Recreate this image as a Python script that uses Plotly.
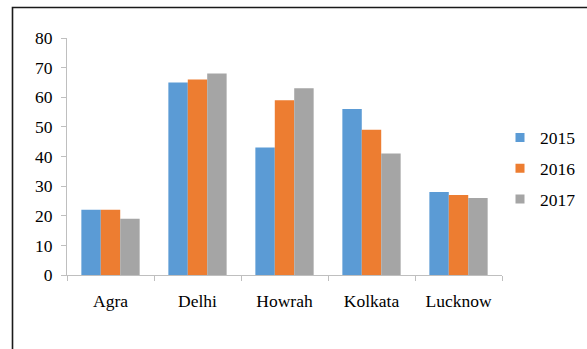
import plotly.graph_objects as go

# City-wise figures for three years
cities = ["Agra", "Delhi", "Howrah", "Kolkata", "Lucknow"]
years = ["2015", "2016", "2017"]
values_2015 = [22, 65, 43, 56, 28]
values_2016 = [22, 66, 59, 49, 27]
values_2017 = [19, 68, 63, 41, 26]
series = [values_2015, values_2016, values_2017]
colors = ["#5B9BD5", "#ED7D31", "#A5A5A5"]

W, H = 587, 349
L, R, T, B = 67, 85, 38, 74
pw, ph = W - L - R, H - T - B

FONT = dict(family="Liberation Serif, Times New Roman, serif", size=17.5, color="#000000")

fig = go.Figure()
for name, vals, col in zip(years, series, colors):
    fig.add_trace(go.Bar(
        x=cities, y=vals, name=name, legendgroup=name, showlegend=False,
        marker=dict(color=col, line=dict(width=0)),
    ))
    # small square legend key for each year
    fig.add_trace(go.Scatter(
        x=[None], y=[None], mode="markers", name=name, legendgroup=name,
        marker=dict(symbol="square", size=9, color=col), hoverinfo="skip",
    ))

# outer frame of the chart area (runs off the right and bottom edges)
def px_x(p):
    return (p - L) / pw

def px_y(p):
    return 1 + (T - p) / ph

fig.add_shape(type="rect", xref="paper", yref="paper",
              x0=px_x(12.5), x1=px_x(700), y0=px_y(500), y1=px_y(7.5),
              line=dict(color="#1a1a1a", width=1.6), fillcolor="rgba(0,0,0,0)",
              layer="below")

fig.update_layout(
    width=W, height=H,
    margin=dict(l=L, r=R, t=T, b=B, pad=0, autoexpand=False),
    paper_bgcolor="white", plot_bgcolor="white",
    barmode="group", bargap=0.33, bargroupgap=0,
    font=FONT,
    showlegend=True,
    legend=dict(x=px_x(500), xanchor="left", y=0.449, yanchor="middle",
                font=FONT, tracegroupgap=5, itemwidth=30,
                bgcolor="rgba(0,0,0,0)"),
    xaxis=dict(
        showline=True, linecolor="#BFBFBF", linewidth=1,
        ticks="outside", tickson="boundaries", ticklen=5, tickcolor="#BFBFBF",
        showgrid=False, zeroline=False, tickfont=FONT, ticklabelstandoff=10,
    ),
    yaxis=dict(
        range=[0, 80], dtick=10, tick0=0,
        showline=True, linecolor="#BFBFBF", linewidth=1,
        ticks="outside", ticklen=5, tickcolor="#BFBFBF",
        showgrid=False, zeroline=False, tickfont=FONT, ticklabelstandoff=5,
    ),
)

fig.write_html("out.html")
